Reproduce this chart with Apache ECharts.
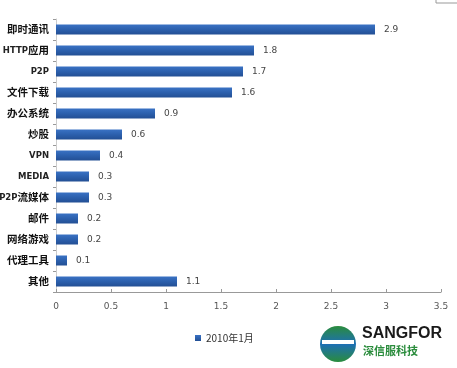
<!DOCTYPE html>
<html><head><meta charset="utf-8">
<script src="https://cdn.jsdelivr.net/npm/echarts@6/dist/echarts.min.js"></script>
<style>html,body{margin:0;padding:0;background:#fff}#c{width:457px;height:368px}</style>
</head><body><div id="c"></div>
<script>
var categories = ['即时通讯','HTTP应用','P2P','文件下载','办公系统','炒股','VPN','MEDIA','P2P流媒体','邮件','网络游戏','代理工具','其他'];
var values = [2.9,1.8,1.7,1.6,0.9,0.6,0.4,0.3,0.3,0.2,0.2,0.1,1.1];
var seriesName = '2010年1月';
var xTicks = [0,0.5,1,1.5,2,2.5,3,3.5];

function fmtCat(s){
  return s.replace(/([A-Za-z0-9]+)|([^A-Za-z0-9]+)/g,function(m,a,b){
    return a ? '{l|'+a+'}' : '{c|'+b+'}';
  });
}

var chart = echarts.init(document.getElementById('c'));
chart.setOption({
  animation:false,
  grid:{left:56,right:16,top:19,bottom:76,containLabel:false,outerBoundsMode:'none'},
  legend:{data:[seriesName],bottom:20,left:190,itemWidth:6,itemHeight:6,icon:'rect',
    textStyle:{fontSize:10,color:'#333',fontFamily:'Noto Sans CJK SC'},itemGap:4},
  xAxis:{type:'value',min:0,max:3.5,interval:0.5,
    axisLine:{show:true,lineStyle:{color:'#999'}},
    axisTick:{show:true,length:3,inside:true,lineStyle:{color:'#999'}},
    splitLine:{show:false},
    axisLabel:{color:'#555',fontSize:9,margin:10,fontFamily:'Verdana, DejaVu Sans',
      formatter:function(v){return xTicks.indexOf(v)>=0?String(v):'';}}},
  yAxis:{type:'category',data:categories,inverse:true,
    axisLine:{show:true,lineStyle:{color:'#ccc'}},
    axisTick:{show:true,length:3,lineStyle:{color:'#999'}},
    axisLabel:{margin:7,formatter:fmtCat,
      rich:{
        c:{color:'#111',fontSize:10.5,fontWeight:'bold',fontFamily:'Noto Sans CJK SC'},
        l:{color:'#222',fontSize:8.5,fontWeight:'bold',fontFamily:'DejaVu Sans'}
      }}},
  series:[{name:seriesName,type:'bar',data:values,barWidth:10,
    itemStyle:{color:new echarts.graphic.LinearGradient(0,0,0,1,[{offset:0,color:'#3a72c4'},{offset:0.5,color:'#2c60ad'},{offset:1,color:'#234f94'}])},
    label:{show:true,position:'right',distance:9,color:'#444',fontSize:9,fontFamily:'Verdana, DejaVu Sans'}}],
  graphic:[
    {type:'circle',shape:{cx:338,cy:344,r:18},style:{fill:new echarts.graphic.LinearGradient(0,0,0,1,[{offset:0,color:'#2a8c3c'},{offset:0.5,color:'#1d6fb5'},{offset:1,color:'#2a8c3c'}])}},
    {type:'rect',shape:{x:322,y:340,width:32,height:4},style:{fill:'#fff'}},
    {type:'text',left:362,top:326,style:{text:'SANGFOR',fontSize:16,fontWeight:'bold',fill:'#1a1a1a',fontFamily:'Liberation Sans'}},
    {type:'text',left:363,top:345,style:{text:'深信服科技',fontSize:11,fontWeight:'bold',fill:'#2a8c3c',fontFamily:'Noto Sans CJK SC'}},
    {type:'rect',shape:{x:436,y:-1,width:22,height:4},style:{fill:'none',stroke:'#999',lineWidth:1}}
  ]
});
</script></body></html>
